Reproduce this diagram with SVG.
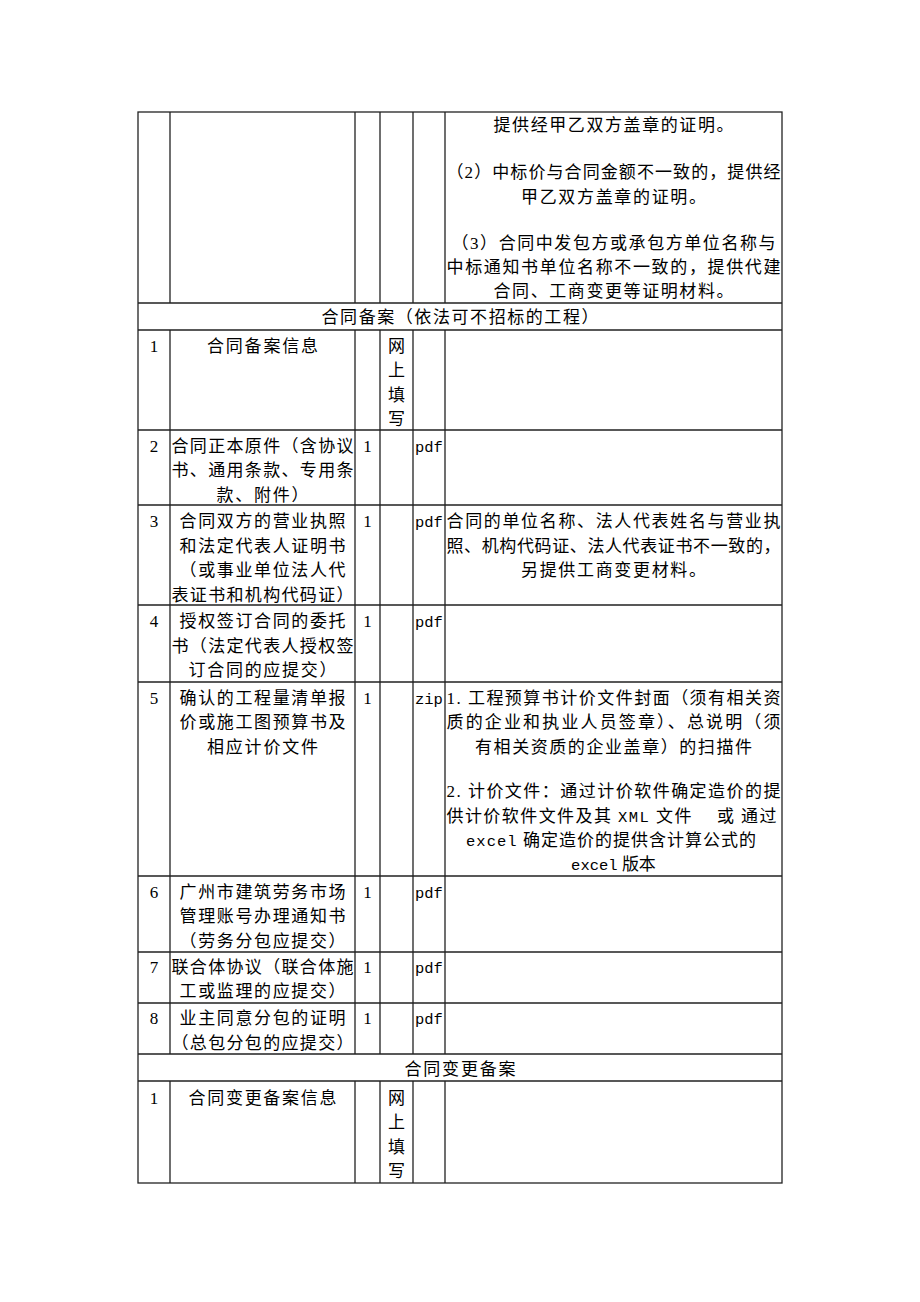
<svg xmlns="http://www.w3.org/2000/svg" width="920" height="1302" viewBox="0 0 920 1302">
<style>
.t{font-family:"Liberation Serif","Noto Sans CJK SC",serif;font-size:17px;fill:#000}
.m{text-anchor:middle}
.mono{font-family:"Liberation Mono","Noto Sans CJK SC",monospace;font-size:15.5px}
.g{stroke:#222;stroke-width:1.3;fill:none}
</style>
<rect width="920" height="1302" fill="#fff"/>
<g id="grid" class="g">
<rect x="138" y="112" width="644" height="1071"/>
<path d="M138 303H782M138 330H782M138 430H782M138 505H782M138 605H782M138 682H782M138 876H782M138 952H782M138 1003H782M138 1054H782M138 1081H782"/>
<path d="M170 112V303M355 112V303M380 112V303M413 112V303M445 112V303"/>
<path d="M170 330V1054M355 330V1054M380 330V1054M413 330V1054M445 330V1054"/>
<path d="M170 1081V1183M355 1081V1183M380 1081V1183M413 1081V1183M445 1081V1183"/>
</g>
<g id="rowA" class="t">
<text x="613.5" y="131" class="m" textLength="240" lengthAdjust="spacing">提供经甲乙双方盖章的证明。</text>
<text x="446.5" y="178" textLength="334" lengthAdjust="spacing">（2）中标价与合同金额不一致的，提供经</text>
<text x="613.5" y="203" class="m" textLength="185" lengthAdjust="spacing">甲乙双方盖章的证明。</text>
<text x="613.5" y="249" class="m" textLength="324" lengthAdjust="spacing">（3）合同中发包方或承包方单位名称与</text>
<text x="446.5" y="273" textLength="334" lengthAdjust="spacing">中标通知书单位名称不一致的，提供代建</text>
<text x="613.5" y="297" class="m" textLength="240" lengthAdjust="spacing">合同、工商变更等证明材料。</text>
</g>
<g id="header1" class="t">
<text x="460" y="322.5" class="m" textLength="277" lengthAdjust="spacing">合同备案（依法可不招标的工程）</text>
</g>
<g id="row1" class="t">
<text x="154" y="351.5" class="m">1</text>
<text x="262.5" y="351.5" class="m" textLength="111" lengthAdjust="spacing">合同备案信息</text>
<text x="396.5" y="351.5" class="m">网</text>
<text x="396.5" y="376" class="m">上</text>
<text x="396.5" y="400.5" class="m">填</text>
<text x="396.5" y="425" class="m">写</text>
</g>
<g id="row2" class="t">
<text x="154" y="451.5" class="m">2</text>
<text x="171.5" y="451.5" textLength="182" lengthAdjust="spacing">合同正本原件（含协议</text>
<text x="171.5" y="476" textLength="182" lengthAdjust="spacing">书、通用条款、专用条</text>
<text x="262.5" y="500.5" class="m" textLength="92" lengthAdjust="spacing">款、附件）</text>
<text x="367.5" y="451.5" class="m">1</text>
<text x="415" y="451.5" class="mono">pdf</text>
</g>
<g id="row3" class="t">
<text x="154" y="527" class="m">3</text>
<text x="262.5" y="527" class="m" textLength="166" lengthAdjust="spacing">合同双方的营业执照</text>
<text x="262.5" y="551.5" class="m" textLength="166" lengthAdjust="spacing">和法定代表人证明书</text>
<text x="262.5" y="576" class="m" textLength="166" lengthAdjust="spacing">（或事业单位法人代</text>
<text x="171.5" y="600.5" textLength="182" lengthAdjust="spacing">表证书和机构代码证）</text>
<text x="367.5" y="527" class="m">1</text>
<text x="415" y="527" class="mono">pdf</text>
<text x="446.5" y="527" textLength="334" lengthAdjust="spacing">合同的单位名称、法人代表姓名与营业执</text>
<text x="446.5" y="551.5" textLength="334" lengthAdjust="spacing">照、机构代码证、法人代表证书不一致的，</text>
<text x="613.5" y="576" class="m" textLength="185" lengthAdjust="spacing">另提供工商变更材料。</text>
</g>
<g id="row4" class="t">
<text x="154" y="627" class="m">4</text>
<text x="262.5" y="627" class="m" textLength="166" lengthAdjust="spacing">授权签订合同的委托</text>
<text x="171.5" y="651.5" textLength="182" lengthAdjust="spacing">书（法定代表人授权签</text>
<text x="262.5" y="676" class="m" textLength="148" lengthAdjust="spacing">订合同的应提交）</text>
<text x="367.5" y="627" class="m">1</text>
<text x="415" y="627" class="mono">pdf</text>
</g>
<g id="row5" class="t">
<text x="154" y="703.5" class="m">5</text>
<text x="262.5" y="703.5" class="m" textLength="166" lengthAdjust="spacing">确认的工程量清单报</text>
<text x="262.5" y="728" class="m" textLength="166" lengthAdjust="spacing">价或施工图预算书及</text>
<text x="262.5" y="752.5" class="m" textLength="111" lengthAdjust="spacing">相应计价文件</text>
<text x="367.5" y="703.5" class="m">1</text>
<text x="415" y="703.5" class="mono">zip</text>
<text x="446.5" y="703.5" textLength="334" lengthAdjust="spacing">1. 工程预算书计价文件封面（须有相关资</text>
<text x="446.5" y="728" textLength="334" lengthAdjust="spacing">质的企业和执业人员签章）、总说明（须</text>
<text x="613.5" y="752.5" class="m" textLength="277" lengthAdjust="spacing">有相关资质的企业盖章）的扫描件</text>
<text x="446.5" y="797" textLength="334" lengthAdjust="spacing">2. 计价文件：通过计价软件确定造价的提</text>
<text x="446.5" y="821.5" textLength="330" lengthAdjust="spacing">供计价软件文件及其 <tspan class="mono">XML</tspan> 文件　 或 通过</text>
<text x="611" y="846" class="m" textLength="290" lengthAdjust="spacing"><tspan class="mono">excel</tspan> 确定造价的提供含计算公式的</text>
<text x="613.5" y="870" class="m"><tspan class="mono">excel</tspan> 版本</text>
</g>
<g id="row6" class="t">
<text x="154" y="897.5" class="m">6</text>
<text x="262.5" y="897.5" class="m" textLength="166" lengthAdjust="spacing">广州市建筑劳务市场</text>
<text x="262.5" y="922" class="m" textLength="166" lengthAdjust="spacing">管理账号办理通知书</text>
<text x="262.5" y="946.5" class="m" textLength="166" lengthAdjust="spacing">（劳务分包应提交）</text>
<text x="367.5" y="897.5" class="m">1</text>
<text x="415" y="897.5" class="mono">pdf</text>
</g>
<g id="row7" class="t">
<text x="154" y="973" class="m">7</text>
<text x="171.5" y="973" textLength="182" lengthAdjust="spacing">联合体协议（联合体施</text>
<text x="262.5" y="997" class="m" textLength="166" lengthAdjust="spacing">工或监理的应提交）</text>
<text x="367.5" y="973" class="m">1</text>
<text x="415" y="973" class="mono">pdf</text>
</g>
<g id="row8" class="t">
<text x="154" y="1024" class="m">8</text>
<text x="262.5" y="1024" class="m" textLength="166" lengthAdjust="spacing">业主同意分包的证明</text>
<text x="171.5" y="1048.5" textLength="182" lengthAdjust="spacing">（总包分包的应提交）</text>
<text x="367.5" y="1024" class="m">1</text>
<text x="415" y="1024" class="mono">pdf</text>
</g>
<g id="header2" class="t">
<text x="460" y="1075" class="m" textLength="111" lengthAdjust="spacing">合同变更备案</text>
</g>
<g id="row9" class="t">
<text x="154" y="1103.5" class="m">1</text>
<text x="262.5" y="1103.5" class="m" textLength="148" lengthAdjust="spacing">合同变更备案信息</text>
<text x="396.5" y="1103.5" class="m">网</text>
<text x="396.5" y="1128" class="m">上</text>
<text x="396.5" y="1152.5" class="m">填</text>
<text x="396.5" y="1177" class="m">写</text>
</g>
</svg>
